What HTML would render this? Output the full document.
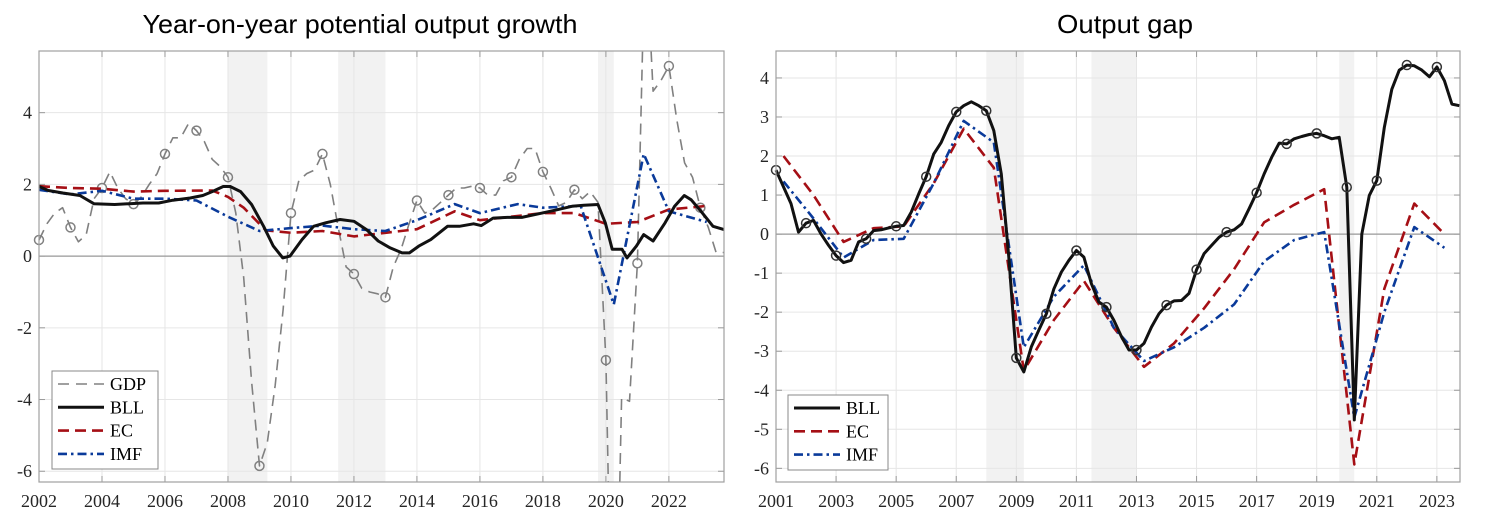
<!DOCTYPE html>
<html><head><meta charset="utf-8"><style>
html,body{margin:0;padding:0;background:#fff;width:1500px;height:524px;overflow:hidden;}
svg{display:block;}
.tk{font-family:"Liberation Serif",serif;font-size:18px;fill:#262626;}
.tt{font-family:"Liberation Sans",sans-serif;font-size:26px;fill:#000;}
.lg{font-family:"Liberation Serif",serif;font-size:18px;fill:#000;}
</style></head><body>
<svg id="c" width="1500" height="524" xmlns="http://www.w3.org/2000/svg"></svg>
<script>
// ---- Left panel data: potential output growth ----
const gdpYears=[2002,2002.25,2002.5,2002.75,2003,2003.25,2003.5,2003.75,2004,2004.25,2004.5,2004.75,2005,2005.25,2005.5,2005.75,2006,2006.25,2006.5,2006.75,2007,2007.25,2007.5,2007.75,2008,2008.25,2008.5,2008.75,2009,2009.25,2009.5,2009.75,2010,2010.25,2010.5,2010.75,2011,2011.25,2011.5,2011.75,2012,2012.25,2012.5,2012.75,2013,2013.25,2013.5,2013.75,2014,2014.25,2014.5,2014.75,2015,2015.25,2015.5,2015.75,2016,2016.25,2016.5,2016.75,2017,2017.25,2017.5,2017.75,2018,2018.25,2018.5,2018.75,2019,2019.25,2019.5,2019.75,2020,2020.25,2020.5,2020.75,2021,2021.25,2021.5,2021.75,2022,2022.25,2022.5,2022.75,2023,2023.25,2023.5,2023.75];
const gdpVals=[0.45,0.9,1.2,1.35,0.8,0.4,0.6,1.6,1.9,2.35,1.9,1.6,1.45,1.65,2.0,2.3,2.85,3.3,3.3,3.7,3.5,3.2,2.7,2.5,2.2,1.2,-0.6,-3.5,-5.85,-5.2,-3.6,-1.5,1.2,2.1,2.3,2.4,2.85,2.0,0.8,-0.3,-0.5,-0.9,-1.0,-1.05,-1.15,-0.3,0.2,0.9,1.55,1.2,1.3,1.5,1.7,1.9,1.9,1.95,1.9,1.7,1.7,2.1,2.2,2.7,3.0,3.0,2.35,1.9,1.4,1.5,1.85,1.6,1.8,1.5,-2.9,-14,-3.95,-4.05,-0.2,9,4.6,4.9,5.3,3.8,2.6,2.2,1.35,0.8,0.1,0.1];
const gdpMarkYears=[2002,2003,2004,2005,2006,2007,2008,2009,2010,2011,2012,2013,2014,2015,2016,2017,2018,2019,2020,2021,2022,2023];
const bllLYears=[2002,2002.3,2002.76,2003.3,2003.75,2004.4,2005.3,2005.8,2006.25,2006.8,2007.2,2007.5,2007.85,2008.07,2008.4,2008.75,2009.13,2009.44,2009.74,2009.97,2010.35,2010.72,2011.1,2011.56,2012,2012.4,2012.77,2013.15,2013.53,2013.76,2014.06,2014.44,2014.97,2015.35,2015.8,2016.04,2016.42,2016.87,2017.33,2017.86,2018.39,2018.92,2019.3,2019.75,2019.98,2020.2,2020.51,2020.67,2020.97,2021.2,2021.5,2021.88,2022.18,2022.49,2022.71,2023.02,2023.4,2023.75];
const bllLVals=[1.94,1.83,1.76,1.69,1.46,1.44,1.48,1.48,1.56,1.62,1.69,1.8,1.94,1.94,1.8,1.44,0.83,0.28,-0.05,0,0.46,0.83,0.93,1.02,0.97,0.74,0.42,0.23,0.09,0.09,0.28,0.46,0.83,0.83,0.9,0.85,1.06,1.08,1.08,1.18,1.28,1.39,1.42,1.44,0.93,0.19,0.19,-0.05,0.28,0.6,0.42,0.93,1.39,1.69,1.57,1.25,0.83,0.74];
const ecLYears=[2002,2003,2004,2005,2006,2007.5,2008,2008.5,2009.2,2010,2011,2012,2013,2014,2015.2,2016,2017,2018,2019,2020,2021,2022,2023.2];
const ecLVals=[1.95,1.9,1.88,1.8,1.82,1.83,1.65,1.35,0.72,0.65,0.7,0.55,0.65,0.75,1.25,1.0,1.1,1.2,1.2,0.9,0.95,1.3,1.4];
const imfLYears=[2002,2003,2004,2005,2006,2007,2008,2009,2010,2011,2012,2013,2014,2015.2,2016,2017.2,2018,2019.2,2020.25,2021.2,2022,2023,2023.2];
const imfLVals=[1.85,1.72,1.82,1.6,1.6,1.55,1.1,0.7,0.78,0.85,0.75,0.7,1.0,1.45,1.2,1.45,1.35,1.4,-1.35,2.85,1.25,1.0,0.95];
const yTicksL=[-6,-4,-2,0,2,4];
const xTicksL=[2002,2004,2006,2008,2010,2012,2014,2016,2018,2020,2022];
// ---- Right panel data: output gap ----
const bllRYears=[2001,2001.5,2001.75,2002,2002.25,2002.5,2002.75,2003,2003.25,2003.5,2003.75,2004,2004.25,2004.5,2004.75,2005,2005.25,2005.5,2005.75,2006,2006.25,2006.5,2006.75,2007,2007.25,2007.5,2007.75,2008,2008.25,2008.5,2008.75,2009,2009.25,2009.5,2009.75,2010,2010.25,2010.5,2010.75,2011,2011.25,2011.5,2011.75,2012,2012.25,2012.5,2012.75,2013,2013.25,2013.5,2013.75,2014,2014.25,2014.5,2014.75,2015,2015.25,2015.5,2015.75,2016,2016.25,2016.5,2016.75,2017,2017.25,2017.5,2017.75,2018,2018.25,2018.5,2018.75,2019,2019.25,2019.5,2019.75,2020,2020.25,2020.5,2020.75,2021,2021.25,2021.5,2021.75,2022,2022.25,2022.5,2022.75,2023,2023.25,2023.5,2023.75];
const bllRVals=[1.64,0.78,0.05,0.28,0.35,0,-0.29,-0.55,-0.73,-0.67,-0.2,-0.12,0.09,0.11,0.16,0.2,0.22,0.56,1.03,1.47,2.05,2.35,2.78,3.13,3.29,3.39,3.29,3.16,2.65,1.54,-0.59,-3.17,-3.53,-2.89,-2.46,-2.04,-1.4,-0.97,-0.67,-0.42,-0.59,-1.27,-1.74,-1.87,-2.21,-2.63,-2.97,-2.97,-2.8,-2.38,-2.04,-1.82,-1.71,-1.7,-1.52,-0.91,-0.5,-0.29,-0.08,0.05,0.11,0.26,0.65,1.06,1.54,1.97,2.33,2.31,2.44,2.5,2.55,2.58,2.52,2.44,2.48,1.2,-4.76,0,0.99,1.37,2.73,3.71,4.2,4.33,4.31,4.2,4.03,4.28,3.93,3.33,3.29];
const bllRMarkYears=[2001,2002,2003,2004,2005,2006,2007,2008,2009,2010,2011,2012,2013,2014,2015,2016,2017,2018,2019,2020,2021,2022,2023];
const ecRYears=[2001.25,2002.25,2003.25,2004.25,2005.25,2006.25,2007.25,2008.25,2009.25,2010.25,2011.25,2012.25,2013.25,2014.25,2015.25,2016.25,2017.25,2018.25,2019.25,2020.25,2021.25,2022.25,2023.25];
const ecRVals=[2.0,1.0,-0.2,0.15,0.2,1.3,2.7,1.7,-3.5,-2.2,-1.2,-2.4,-3.4,-2.8,-1.9,-0.9,0.3,0.75,1.15,-5.9,-1.4,0.78,0.0];
const imfRYears=ecRYears;
const imfRVals=[1.35,0.4,-0.6,-0.15,-0.12,1.3,2.9,2.35,-2.9,-1.6,-0.8,-2.4,-3.25,-2.9,-2.4,-1.8,-0.7,-0.15,0.05,-4.7,-2.0,0.18,-0.35];
const yTicksR=[-6,-5,-4,-3,-2,-1,0,1,2,3,4];
const xTicksR=[2001,2003,2005,2007,2009,2011,2013,2015,2017,2019,2021,2023];
const recessions=[[2008.0,2009.25],[2011.5,2013.0],[2019.75,2020.25]];

const NS="http://www.w3.org/2000/svg";
const svg=document.getElementById('c');
function mk(tag,attrs,parent){const e=document.createElementNS(NS,tag);for(const k in attrs)e.setAttribute(k,attrs[k]);(parent||svg).appendChild(e);return e;}

// clip polyline (data space) to [ymin,ymax]; returns path string
function clippedPath(xs,ys,ymin,ymax,X,Y){
  let d='',pen=false;
  const inside=v=>v>=ymin&&v<=ymax;
  for(let i=0;i<xs.length;i++){
    if(i===0){ if(inside(ys[0])){d+='M'+X(xs[0]).toFixed(1)+','+Y(ys[0]).toFixed(1);pen=true;} continue; }
    const x0=xs[i-1],y0=ys[i-1],x1=xs[i],y1=ys[i];
    let t0=0,t1=1;const dy=y1-y0;
    if(dy!==0){
      let ta=(ymin-y0)/dy,tb=(ymax-y0)/dy;if(ta>tb){const t=ta;ta=tb;tb=t;}
      t0=Math.max(0,ta);t1=Math.min(1,tb);
    } else if(!inside(y0)){t0=1;t1=0;}
    if(t0>t1){pen=false;continue;}
    const ax=x0+(x1-x0)*t0,ay=y0+dy*t0,bx=x0+(x1-x0)*t1,by=y0+dy*t1;
    if(!pen||t0>0){d+='M'+X(ax).toFixed(1)+','+Y(ay).toFixed(1);}
    d+='L'+X(bx).toFixed(1)+','+Y(by).toFixed(1);
    pen=(t1===1);
  }
  return d;
}

function panel(cfg){
  const g=mk('g',{});
  
  
  const X=v=>cfg.x0+(v-cfg.xmin)/(cfg.xmax-cfg.xmin)*(cfg.x1-cfg.x0);
  const Y=v=>cfg.y1-(v-cfg.ymin)/(cfg.ymax-cfg.ymin)*(cfg.y1-cfg.y0);
  recessions.forEach(r=>{const e=mk('rect',{x:X(r[0]),y:cfg.y0,width:X(r[1])-X(r[0]),height:cfg.y1-cfg.y0,fill:'#f2f2f2'},g);
    });
  cfg.xt.forEach(t=>{mk('line',{x1:X(t),x2:X(t),y1:cfg.y0,y2:cfg.y1,stroke:'#e6e6e6','stroke-width':1},g);
    mk('line',{x1:X(t),x2:X(t),y1:cfg.y1,y2:cfg.y1-6,stroke:'#999'},g);mk('line',{x1:X(t),x2:X(t),y1:cfg.y0,y2:cfg.y0+6,stroke:'#999'},g);
    const tx=mk('text',{x:X(t),y:cfg.y1+25,'text-anchor':'middle',class:'tk'},g);tx.textContent=t;
    });
  cfg.yt.forEach(t=>{mk('line',{x1:cfg.x0,x2:cfg.x1,y1:Y(t),y2:Y(t),stroke:'#e6e6e6','stroke-width':1},g);
    mk('line',{x1:cfg.x0,x2:cfg.x0+6,y1:Y(t),y2:Y(t),stroke:'#999'},g);mk('line',{x1:cfg.x1,x2:cfg.x1-6,y1:Y(t),y2:Y(t),stroke:'#999'},g);
    const tx=mk('text',{x:cfg.x0-7,y:Y(t)+6,'text-anchor':'end',class:'tk'},g);tx.textContent=t;
    });
  const z=mk('line',{x1:cfg.x0,x2:cfg.x1,y1:Y(0),y2:Y(0),stroke:'#999','stroke-width':1.2},g);
  
  const pg=mk('g',{},g);
  cfg.series.forEach(s=>{
    const d=clippedPath(s.xs,s.ys,cfg.ymin,cfg.ymax,X,Y);
    const p=mk('path',{d:d,fill:'none',stroke:s.color,'stroke-width':s.w,'stroke-dasharray':s.dash||'none','stroke-linejoin':'round'},pg);
    
    if(s.marks){s.marks.forEach(m=>{const i=s.xs.indexOf(m);if(i<0)return;const v=s.ys[i];if(v<cfg.ymin||v>cfg.ymax)return;
      const c=mk('circle',{cx:X(m),cy:Y(v),r:4.5,fill:'none',stroke:s.mcolor,'stroke-width':1.5},pg);
      });}
  });
  const fr=mk('rect',{x:cfg.x0,y:cfg.y0,width:cfg.x1-cfg.x0,height:cfg.y1-cfg.y0,fill:'none',stroke:'#a0a0a0','stroke-width':1.2},g);
  
  const ti=mk('text',{x:cfg.tx,y:33,'text-anchor':'middle',class:'tt',textLength:cfg.tw,lengthAdjust:'spacingAndGlyphs'},g);ti.textContent=cfg.title;
  
  const L=cfg.legend;const lg=mk('g',{},g);
  
  mk('rect',{x:L.x,y:L.y,width:L.w,height:L.h,fill:'#fff',stroke:'#888','stroke-width':1},lg);
  L.items.forEach((it,i)=>{const yy=L.y+13+i*23.3;
    const le=mk('g',{},lg);
    mk('line',{x1:L.x+6,x2:L.x+52,y1:yy,y2:yy,stroke:it.color,'stroke-width':it.w,'stroke-dasharray':it.dash||'none'},le);
    const t=mk('text',{x:L.x+58,y:yy+6,class:'lg'},le);t.textContent=it.label;});
}
const sGDP={name:'gdp-line',xs:gdpYears,ys:gdpVals,color:'#808080',w:1.6,dash:'11,7',marks:gdpMarkYears,mcolor:'#808080'};
const sEC=(xs,ys)=>({name:'ec-line',xs:xs,ys:ys,color:'#a50f15',w:2.6,dash:'11,6'});
const sIMF=(xs,ys)=>({name:'imf-line',xs:xs,ys:ys,color:'#0a3a9a',w:2.6,dash:'9,4,2.5,4'});
panel({name:'left-panel',title:'Year-on-year potential output growth',tx:360,tw:435,x0:39,x1:724,y0:51,y1:482,xmin:2002,xmax:2023.75,ymin:-6.3,ymax:5.72,xt:xTicksL,yt:yTicksL,
  series:[sGDP,sEC(ecLYears,ecLVals),sIMF(imfLYears,imfLVals),{name:'bll-line',xs:bllLYears,ys:bllLVals,color:'#111',w:3}],
  legend:{x:52,y:371,w:106,h:98,items:[{label:'GDP',color:'#808080',w:1.6,dash:'11,7'},{label:'BLL',color:'#111',w:3},{label:'EC',color:'#a50f15',w:2.6,dash:'11,6'},{label:'IMF',color:'#0a3a9a',w:2.6,dash:'9,4,2.5,4'}]}});
panel({name:'right-panel',title:'Output gap',tx:1125,tw:136,x0:776,x1:1460,y0:51,y1:482,xmin:2001,xmax:2023.77,ymin:-6.35,ymax:4.69,xt:xTicksR,yt:yTicksR,
  series:[sEC(ecRYears,ecRVals),sIMF(imfRYears,imfRVals),{name:'bll-line',xs:bllRYears,ys:bllRVals,color:'#111',w:3,marks:bllRMarkYears,mcolor:'#333'}],
  legend:{x:788,y:395,w:100,h:75,items:[{label:'BLL',color:'#111',w:3},{label:'EC',color:'#a50f15',w:2.6,dash:'11,6'},{label:'IMF',color:'#0a3a9a',w:2.6,dash:'9,4,2.5,4'}]}});
</script>
</body></html>
